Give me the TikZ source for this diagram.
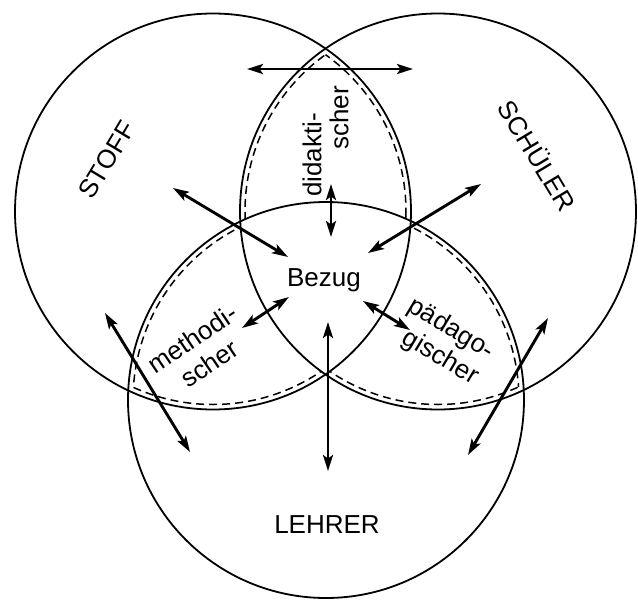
\documentclass[tikz,border=0pt]{standalone}
\usepackage{fontspec}
\setmainfont{Liberation Sans}
\usetikzlibrary{arrows.meta}
\newcommand{\ringr}{198}
\newcommand{\lensr}{193}
\tikzset{
  ring/.style={draw=black, line width=0.9pt},
  lens/.style={draw=black, line width=0.75pt, dash pattern=on 4pt off 2.5pt},
  twoway/.style={{Stealth[length=8pt,width=5pt,inset=1.8pt]}-{Stealth[length=8pt,width=5pt,inset=1.8pt]}, line width=1.45pt},
  word/.style={font=\fontsize{13}{15}\selectfont, inner sep=0pt}
}

\begin{document}
\begin{tikzpicture}[x=0.5pt,y=-0.5pt]
\useasboundingbox (0,0) rectangle (638,600);
\coordinate (stoff) at (213,211.5);
\coordinate (schueler) at (438,211.5);
\coordinate (lehrer) at (326,400);

\draw[ring] (stoff) circle[radius=\ringr];
\draw[ring] (schueler) circle[radius=\ringr];
\draw[ring] (lehrer) circle[radius=\ringr];

% didaktischer Bezug
\begin{scope}[even odd rule]
  \clip (0,0) rectangle (638,600) (lehrer) circle[radius=\ringr];
  \begin{scope}
    \clip (schueler) circle[radius=\lensr];
    \draw[lens] (stoff) circle[radius=\lensr];
  \end{scope}
  \begin{scope}
    \clip (stoff) circle[radius=\lensr];
    \draw[lens] (schueler) circle[radius=\lensr];
  \end{scope}
\end{scope}
% methodischer Bezug
\begin{scope}[even odd rule]
  \clip (0,0) rectangle (638,600) (schueler) circle[radius=\ringr];
  \begin{scope}
    \clip (lehrer) circle[radius=\lensr];
    \draw[lens] (stoff) circle[radius=\lensr];
  \end{scope}
  \begin{scope}
    \clip (stoff) circle[radius=\lensr];
    \draw[lens] (lehrer) circle[radius=\lensr];
  \end{scope}
\end{scope}
% paedagogischer Bezug
\begin{scope}[even odd rule]
  \clip (0,0) rectangle (638,600) (stoff) circle[radius=\ringr];
  \begin{scope}
    \clip (lehrer) circle[radius=\lensr];
    \draw[lens] (schueler) circle[radius=\lensr];
  \end{scope}
  \begin{scope}
    \clip (schueler) circle[radius=\lensr];
    \draw[lens] (lehrer) circle[radius=\lensr];
  \end{scope}
\end{scope}

\node[word, rotate=59] (stoffname) at (107,160) {STOFF};
\node[word, rotate=-59] (schuelername) at (538,155) {SCHÜLER};
\node[word] (lehrername) at (327,525) {LEHRER};
\node[word] (bezug) at (324,280) {Bezug};
\node[word, rotate=90] (did1) at (312,155) {didakti-};
\node[word, rotate=90] (did2) at (339,118) {scher};
\node[word, rotate=34, align=center] (meth) at (201,351) {methodi-\\scher};
\node[word, rotate=-31, align=right] (paed) at (443,342) {pädago-\\gischer};

\coordinate (topL) at (247,69);
\coordinate (topR) at (413,69);
\coordinate (didUp) at (331,184);
\coordinate (didDn) at (331,237);
\coordinate (stoffOut) at (173,188);
\coordinate (stoffIn) at (288,257);
\coordinate (schuelerOut) at (481,184);
\coordinate (schuelerIn) at (368,253);
\coordinate (methOut) at (242,328);
\coordinate (methIn) at (289,297);
\coordinate (paedIn) at (363,301);
\coordinate (paedOut) at (410,330);
\coordinate (lehrerIn) at (328,322);
\coordinate (lehrerOut) at (328,471);
\coordinate (leftUp) at (105,313);
\coordinate (leftDn) at (190,452);
\coordinate (rightUp) at (548,318);
\coordinate (rightDn) at (468,455);

\draw[twoway] (topL) -- (topR);
\draw[twoway] (didUp) -- (didDn);
\draw[twoway] (stoffOut) -- (stoffIn);
\draw[twoway] (schuelerOut) -- (schuelerIn);
\draw[twoway] (methOut) -- (methIn);
\draw[twoway] (paedIn) -- (paedOut);
\draw[twoway] (lehrerIn) -- (lehrerOut);
\draw[twoway] (leftUp) -- (leftDn);
\draw[twoway] (rightUp) -- (rightDn);
\end{tikzpicture}
\end{document}
